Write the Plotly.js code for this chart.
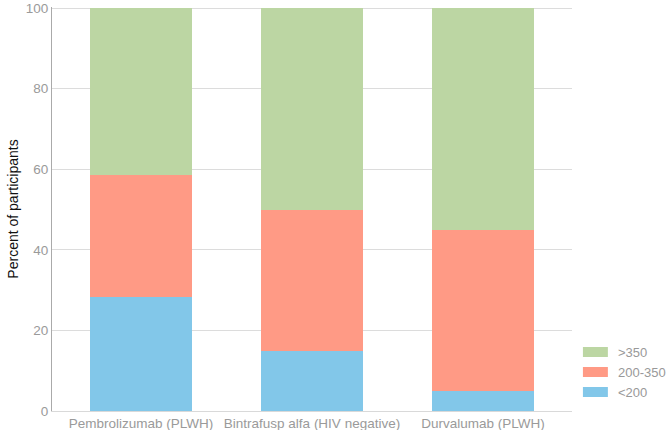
<!DOCTYPE html>
<html>
<head>
<meta charset="utf-8">
<script src="https://cdn.plot.ly/plotly-3.0.1.min.js"></script>
<style>
  html, body { margin: 0; padding: 0; background: #fff; }
  #chart { width: 667px; height: 430px; }
</style>
</head>
<body>
<div id="chart"></div>
<script>
// categories (treatment arms) and CD4 count groups
const arms = ['Pembrolizumab (PLWH)', 'Bintrafusp alfa (HIV negative)', 'Durvalumab (PLWH)'];
const below200 = [28.3, 15, 5];
const mid200to350 = [30.3, 35, 40];
const above350 = [41.4, 50, 55];

const groupNames = ['<200', '200-350', '>350'];
const groupColors = ['#82c7e9', '#ff9a85', '#bcd6a3'];

const traces = [below200, mid200to350, above350].map((vals, i) => ({
    x: arms,
    y: vals,
    name: groupNames[i],
    type: 'bar',
    width: 0.6,
    marker: { color: groupColors[i], line: { width: 0 } },
    hovertemplate: '%{x}<br>' + groupNames[i] + ': %{y:.1f}%<extra></extra>'
}));

// legend drawn by hand: wide flat swatches like the original
const shapes = [], annotations = [];
groupNames.forEach((name, i) => {
    const yc = 0.047 + i * 0.0495;
    shapes.push({
        type: 'rect', xref: 'paper', yref: 'paper',
        x0: 1.021, x1: 1.069, y0: yc - 0.0124, y1: yc + 0.0124,
        fillcolor: groupColors[i], line: { width: 0 }
    });
    annotations.push({
        xref: 'paper', yref: 'paper', x: 1.084, y: yc,
        xanchor: 'left', yanchor: 'middle', showarrow: false,
        text: name, font: { size: 13, color: '#999' }
    });
});

Plotly.newPlot('chart', traces, {
    width: 667,
    height: 430,
    barmode: 'stack',
    showlegend: false,
    margin: { l: 52, r: 95, t: 7, b: 19 },
    paper_bgcolor: '#fff',
    plot_bgcolor: '#fff',
    font: { family: 'Liberation Sans, Arial, sans-serif', size: 13.5, color: '#999' },
    xaxis: {
        range: [-0.52, 2.52],
        showline: true,
        linecolor: '#d9d9d9',
        linewidth: 1,
        ticks: '',
        tickfont: { size: 13.5, color: '#9a9a9a' },
        showgrid: false,
        zeroline: false
    },
    yaxis: {
        range: [0, 100.25],
        dtick: 20,
        showline: true,
        linecolor: '#aaa',
        linewidth: 1,
        gridcolor: '#dcdcdc',
        ticks: '',
        ticklabeloverflow: 'allow',
        tickfont: { size: 13.5, color: '#9a9a9a' },
        zeroline: false,
        title: { text: 'Percent of participants', font: { size: 14, color: '#111' }, standoff: 3 }
    },
    shapes: shapes,
    annotations: annotations
}, { displayModeBar: false });
</script>
</body>
</html>
